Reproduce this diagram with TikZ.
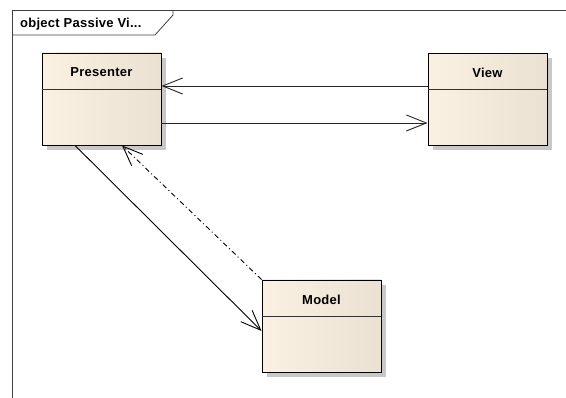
\documentclass[tikz,border=0pt]{standalone}
\usepackage{fontspec}
\setmainfont{Liberation Sans}
\newfontfamily\umlfont[LetterSpace=2]{Liberation Sans}
\usetikzlibrary{arrows.meta,shadows,calc}

\definecolor{boxleft}{HTML}{FAF1E3}
\definecolor{boxmid}{HTML}{FCF5EA}
\definecolor{boxright}{HTML}{EAE1D2}
\definecolor{shadowgray}{HTML}{C8C8C8}
\definecolor{framegray}{HTML}{404040}

\tikzset{
  classbox/.style={draw=black, line width=0.9pt, minimum width=119pt,
    minimum height=92pt, inner sep=0pt,
    left color=boxleft, middle color=boxmid, right color=boxright,
    drop shadow={shadow xshift=5pt, shadow yshift=-5pt, fill=shadowgray, opacity=1}},
  classname/.style={font=\umlfont\bfseries\fontsize{13}{15}\selectfont, inner sep=0pt},
  divider/.style={draw=black!80, line width=0.9pt},
  assoc/.style={draw=black!85, line width=0.9pt,
    -{Straight Barb[length=20pt,width=16pt,line width=0.9pt]}},
  depend/.style={draw=black, line width=0.9pt,
    dash pattern=on 5pt off 3pt on 1pt off 3pt,
    -{Straight Barb[length=20pt,width=16pt,line width=0.9pt,sep=0pt]}},
}

\begin{document}
\begin{tikzpicture}[x=1pt,y=-1pt]
  \useasboundingbox (0,0) rectangle (566,398);

  % diagram frame with its name tab
  \draw[framegray, line width=0.8pt] (12,398) -- (12,10) -- (566,10);
  \draw[framegray, line width=0.8pt] (12,35) -- (155,35) -- (173,15) -- (173,10);
  \node[classname, anchor=base west] (frametitle) at (20,27.5) {object Passive Vi...};

  % classes
  \node[classbox] (presenter) at (101.5,99) {};
  \node[classbox] (view) at (487.5,99.5) {};
  \node[classbox] (model) at (321.5,326) {};

  \draw[divider] (presenter.west |- 0,89) -- (presenter.east |- 0,89);
  \draw[divider] (view.west |- 0,89) -- (view.east |- 0,89);
  \draw[divider] (model.west |- 0,316) -- (model.east |- 0,316);

  \node[classname] (presentername) at ($(presenter.north)+(0,20)$) {Presenter};
  \node[classname] (viewname) at ($(view.north)+(0,20)$) {View};
  \node[classname] (modelname) at ($(model.north)+(0,20)$) {Model};

  % associations
  \draw[assoc] (view.west |- 0,86) -- (presenter.east |- 0,86);
  \draw[assoc] (presenter.east |- 0,123) -- (view.west |- 0,123);
  \draw[assoc, draw=black] (presenter.south -| 75,0) -- (model.west |- 0,331);

  % dependency
  \draw[depend] (model.north west) -- (presenter.south -| 122,0);
\end{tikzpicture}
\end{document}
